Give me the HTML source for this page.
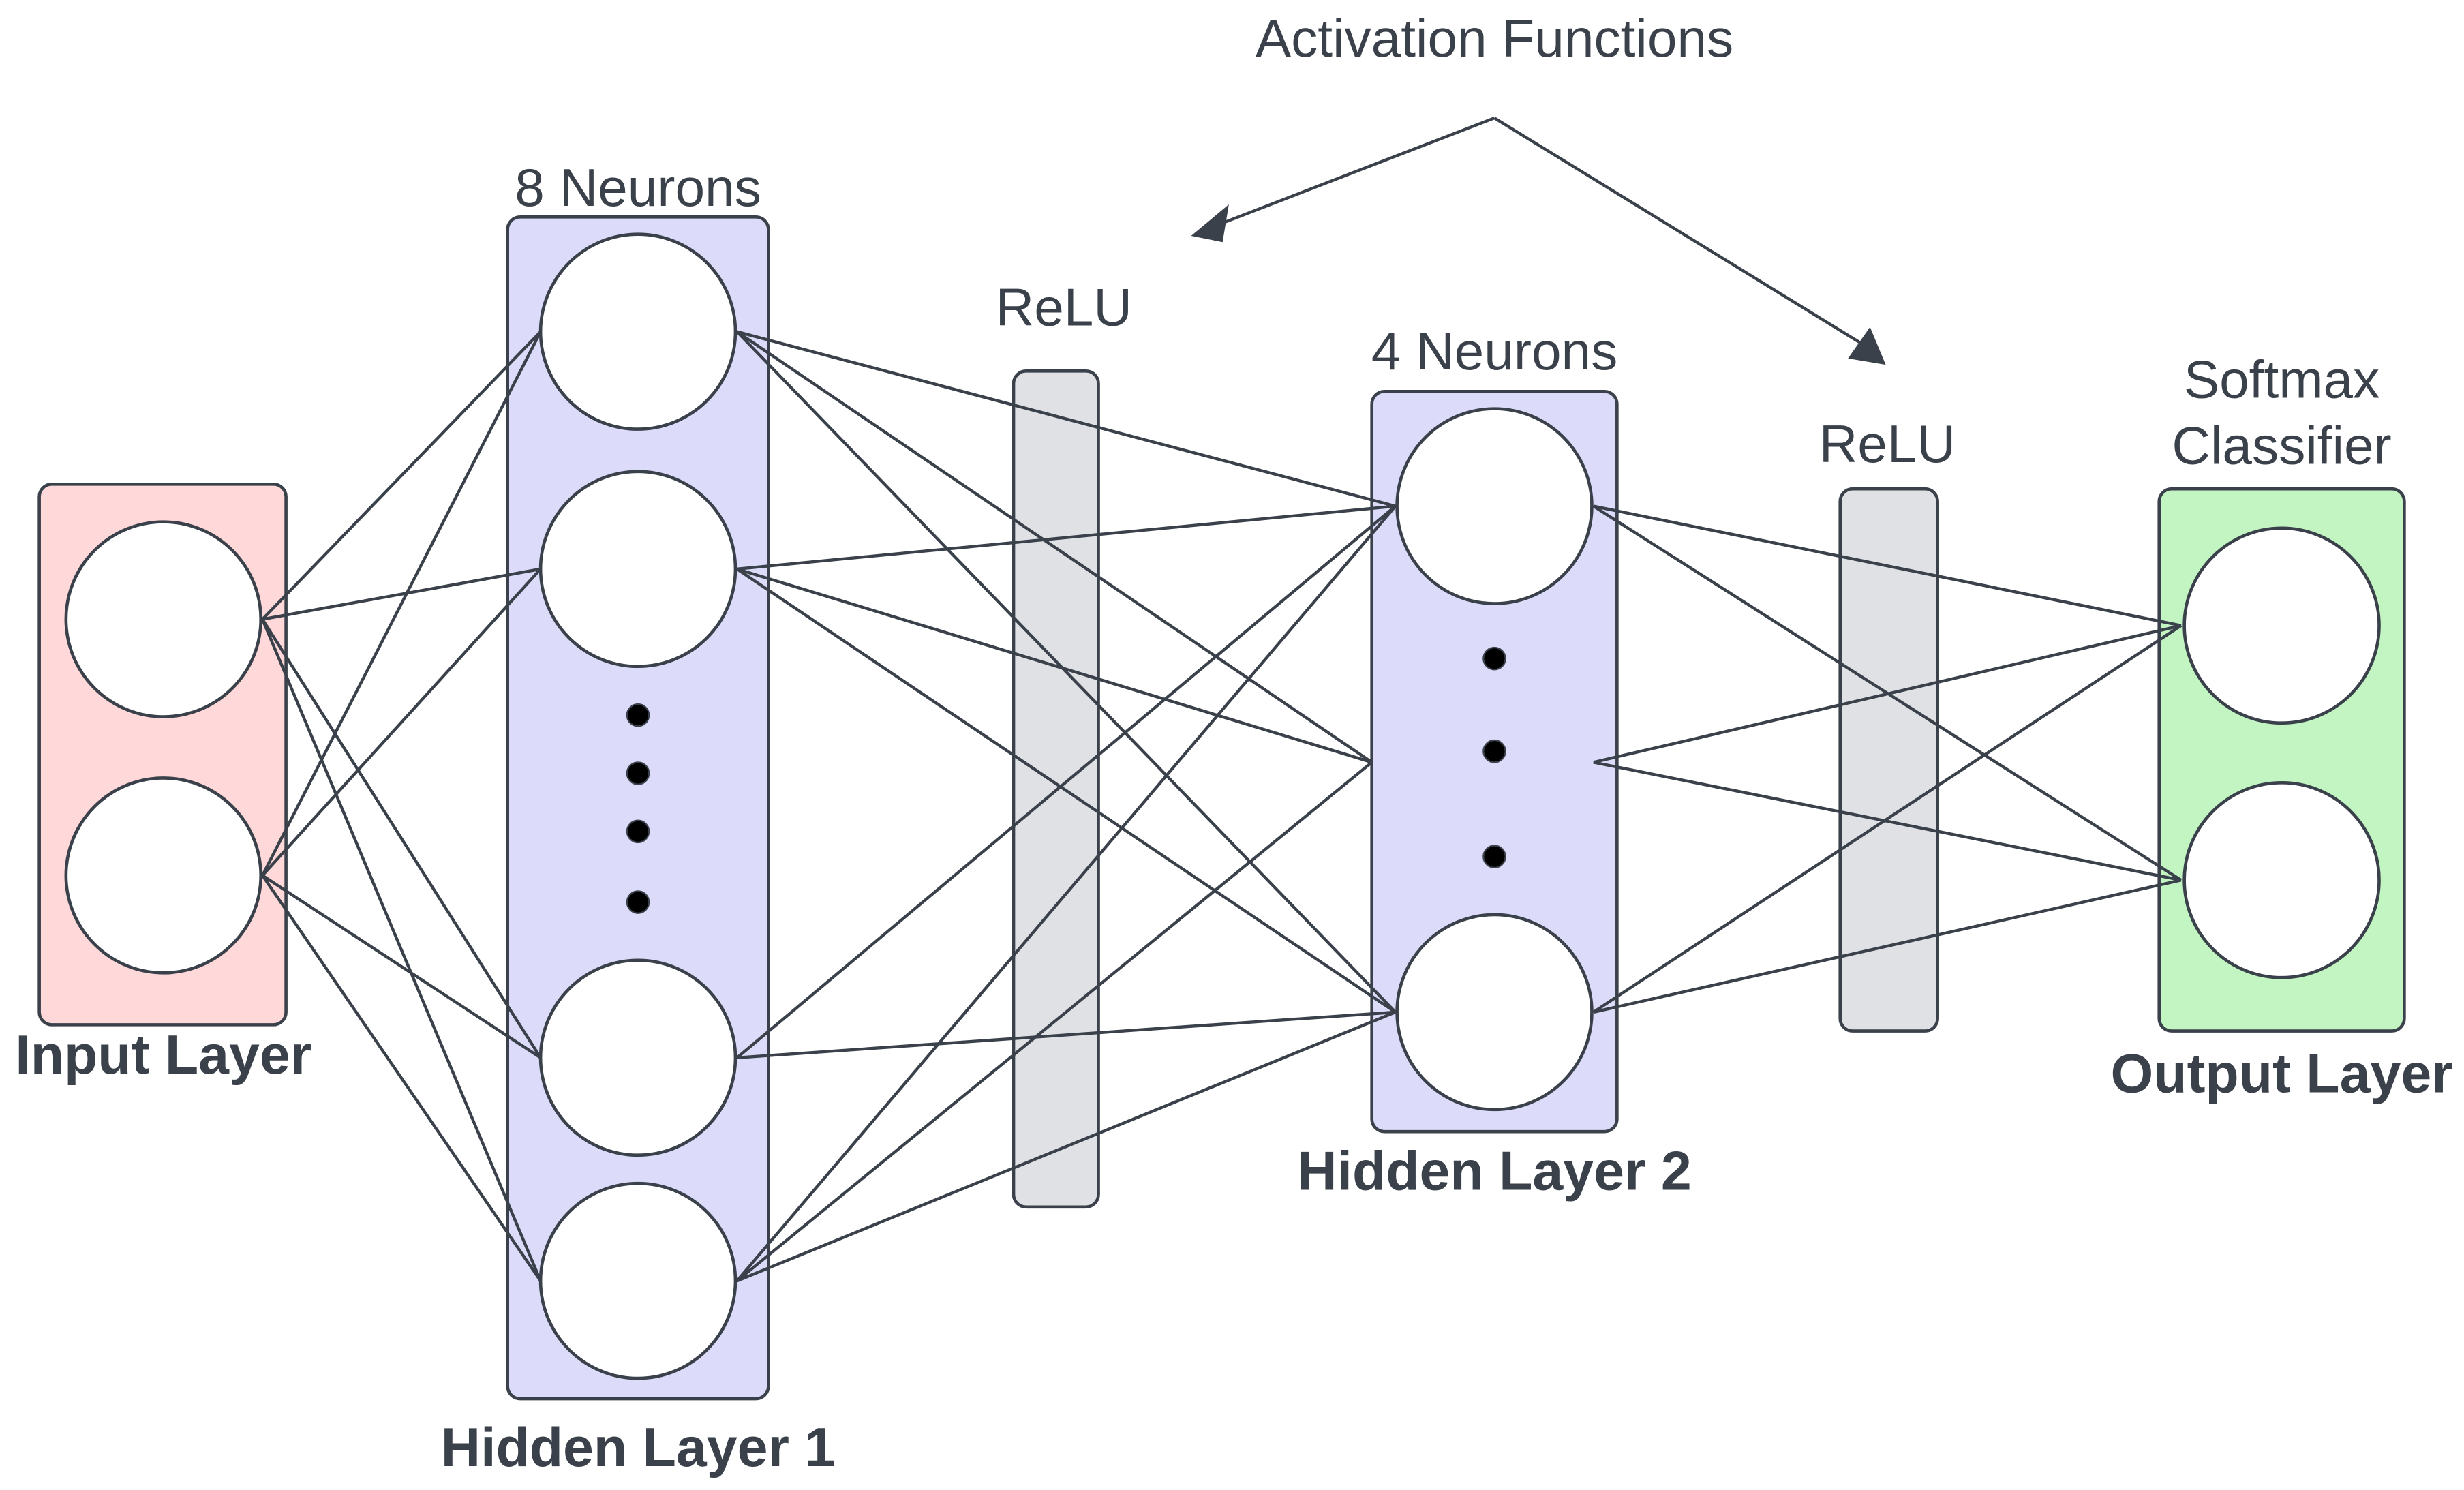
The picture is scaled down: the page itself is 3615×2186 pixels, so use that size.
<!DOCTYPE html>
<html><head><meta charset="utf-8"><style>html,body{margin:0;padding:0;background:#fff}svg{display:block}</style></head>
<body>
<svg width="3615" height="2186" viewBox="0 0 1568 948" xmlns="http://www.w3.org/2000/svg" font-family="Liberation Sans, sans-serif">
<rect x="0" y="0" width="1568" height="948" fill="#fff"/>
<g stroke="#3a414a" stroke-width="2">
<rect x="25" y="308" width="157" height="344" rx="8" fill="#ffd9d9"/>
<rect x="323" y="138" width="166" height="752" rx="8" fill="#dcdcfa"/>
<rect x="645" y="236" width="54" height="532" rx="8" fill="#dfe1e5"/>
<rect x="873" y="249" width="156" height="471" rx="8" fill="#dcdcfa"/>
<rect x="1171" y="311" width="62" height="345" rx="8" fill="#dfe1e5"/>
<rect x="1374" y="311" width="156" height="345" rx="8" fill="#c3f5c3"/>
</g>
<g stroke="#3a414a" stroke-width="1.9" fill="none">
<path d="M167 394L344 211M167 394L344 362M167 394L344 673M167 394L344 815M167 557L344 211M167 557L344 362M167 557L344 673M167 557L344 815"/>
<path d="M469 211L888 322M469 211L873 485M469 211L888 644M469 362L888 322M469 362L873 485M469 362L888 644M469 673L888 322M469 673L888 644M469 815L888 322M469 815L873 485M469 815L888 644"/>
<path d="M1014 322L1388 398M1014 322L1388 560M1014 485L1388 398M1014 485L1388 560M1014 644L1388 398M1014 644L1388 560"/>
<path d="M951 75L775 143M951 75L1187 220"/>
</g>
<polygon points="758,150 782,130 778,154" fill="#3a414a"/>
<polygon points="1200,232 1176,228 1190,208" fill="#3a414a"/>
<g stroke="#3a414a" stroke-width="2" fill="#fff">
<circle cx="104" cy="394" r="62"/><circle cx="104" cy="557" r="62"/>
<circle cx="406" cy="211" r="62"/><circle cx="406" cy="362" r="62"/>
<circle cx="406" cy="673" r="62"/><circle cx="406" cy="815" r="62"/>
<circle cx="951" cy="322" r="62"/><circle cx="951" cy="644" r="62"/>
<circle cx="1452" cy="398" r="62"/><circle cx="1452" cy="560" r="62"/>
</g>
<g fill="#000" stroke="#3a414a" stroke-width="1">
<circle cx="406" cy="455" r="7"/><circle cx="406" cy="492" r="7"/><circle cx="406" cy="529" r="7"/><circle cx="406" cy="574" r="7"/>
<circle cx="951" cy="419" r="7"/><circle cx="951" cy="478" r="7"/><circle cx="951" cy="545" r="7"/>
</g>
<g fill="#3a414a" text-anchor="middle" font-size="34">
<text x="951" y="36">Activation Functions</text>
<text x="406" y="131">8 Neurons</text>
<text x="677" y="207">ReLU</text>
<text x="951" y="235">4 Neurons</text>
<text x="1201" y="294">ReLU</text>
<text x="1452" y="253">Softmax</text>
<text x="1452" y="295">Classifier</text>
<g font-weight="bold" font-size="35">
<text x="104" y="683">Input Layer</text>
<text x="406" y="933">Hidden Layer 1</text>
<text x="951" y="757">Hidden Layer 2</text>
<text x="1452" y="695">Output Layer</text>
</g>
</g>
</svg>
</body></html>
